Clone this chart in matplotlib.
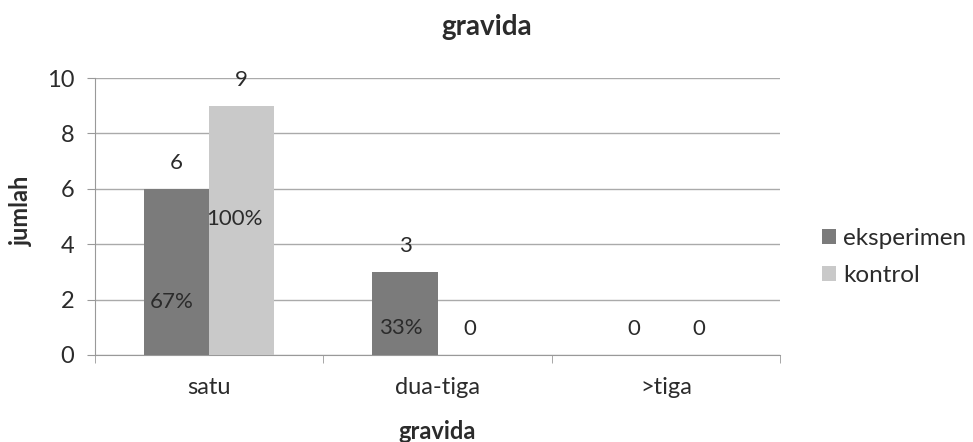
import numpy as np
import matplotlib
matplotlib.use('Agg')
import matplotlib.pyplot as plt

plt.rcParams['font.family'] = ['Lato', 'DejaVu Sans']

# data
kategori = ['satu', 'dua-tiga', '>tiga']
eksperimen = [6, 3, 0]
kontrol = [9, 0, 0]
persen_eksperimen = ['67%', '33%', '']
persen_kontrol = ['100%', '', '']

warna_eks = '#7b7b7b'
warna_kon = '#c9c9c9'
teks = '#2b2b2b'

fig = plt.figure(figsize=(9.73, 4.42), dpi=100)
ax = fig.add_axes([0.0976, 0.197, 0.7041, 0.6265])

x = np.arange(len(kategori))
w = 0.285
b1 = ax.bar(x - w / 2, eksperimen, w, color=warna_eks, label='eksperimen', zorder=3)
b2 = ax.bar(x + w / 2, kontrol, w, color=warna_kon, label='kontrol', zorder=3)

# angka di atas batang
for rect, v in zip(list(b1) + list(b2), eksperimen + kontrol):
    ax.annotate(str(v), (rect.get_x() + rect.get_width() / 2, v),
                xytext=(0, 18.5), textcoords='offset points',
                ha='center', va='center', fontsize=16, color=teks)

# persen di dalam batang
for rect, p in zip(b1, persen_eksperimen):
    if p:
        v = rect.get_height()
        ax.text(rect.get_x() + rect.get_width() / 2 - 0.02, v * 0.32, p,
                ha='center', va='center', fontsize=16, color=teks, zorder=4)
for rect, p in zip(b2, persen_kontrol):
    if p:
        v = rect.get_height()
        ax.text(rect.get_x() + rect.get_width() / 2 - 0.03, v * 0.545, p,
                ha='center', va='center', fontsize=16, color=teks, zorder=4)

ax.set_xlim(-0.5, len(kategori) - 0.5)
ax.set_ylim(0, 10)
ax.set_yticks(range(0, 11, 2))
ax.set_xticks(x)
ax.set_xticklabels(kategori)
ax.set_xticks(np.arange(-0.5, len(kategori), 1), minor=True)
ax.tick_params(axis='x', which='major', length=0, pad=16, labelsize=17, labelcolor=teks)
ax.tick_params(axis='x', which='minor', length=6, color='#999999')
ax.tick_params(axis='y', length=6, color='#999999', labelsize=17, labelcolor=teks, pad=9)

ax.grid(axis='y', color='#aaaaaa', linewidth=1, zorder=0)
for s in ['top', 'right']:
    ax.spines[s].set_visible(False)
for s in ['left', 'bottom']:
    ax.spines[s].set_color('#999999')

fig.text(0.5, 1 - 27 / 442, 'gravida', ha='center', va='center',
         fontsize=20, fontweight='bold', color=teks)
ax.set_xlabel('gravida', fontsize=17, fontweight='bold', color=teks, va='center')
ax.xaxis.set_label_coords(0.5, -0.278)
ax.set_ylabel('jumlah', fontsize=17, fontweight='bold', color=teks, va='center')
ax.yaxis.set_label_coords(-0.107, 0.52)

ax.legend(loc='center left', bbox_to_anchor=(0.845, 1 - 257 / 442),
          bbox_transform=fig.transFigure, frameon=False, borderpad=0,
          borderaxespad=0, fontsize=17.5, handlelength=0.55, handleheight=0.55,
          handletextpad=0.3, labelspacing=0.65, labelcolor=teks)

fig.savefig('out.png', dpi=100)
